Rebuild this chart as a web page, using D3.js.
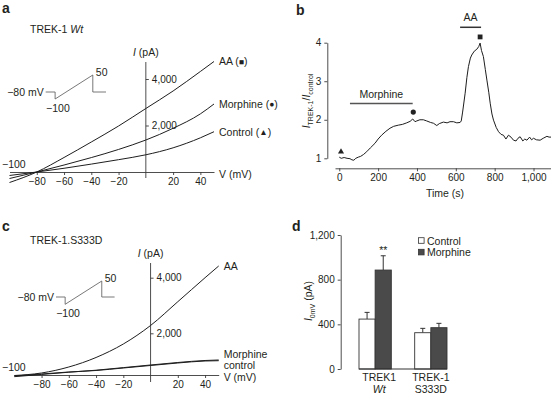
<!DOCTYPE html>
<html lang="en">
<head>
<meta charset="utf-8">
<style>
  html, body { margin: 0; padding: 0; background: #fff; }
  text { font-family: "Liberation Sans", Arial, Helvetica, sans-serif; font-size: 10.5px; fill: #231f20; }
  .axis text { font-size: 10px; }
  .axis path, .axis line { stroke: #3a3a3a; stroke-width: 0.9; }
  .trace { fill: none; stroke: #1e1e1e; stroke-width: 1; }
  .proto { fill: none; stroke: #555; stroke-width: 0.8; }
  .letter { font-weight: bold; font-size: 14px; }
</style>
</head>
<body>
<svg id="fig" width="551" height="394"></svg>
<script src="https://cdn.jsdelivr.net/npm/d3@7"></script>
<script>
// ---- data -------------------------------------------------------------
// I-V ramps (mV / pA)
const ivVoltage = [-100, -80, -60, -40, -20, 0, 20, 40, 50]
const wtAA       = [-452, 0, 624, 1290, 1978, 2731, 3484, 4323, 4753]
const wtMorphine = [-280, 0, 300, 620, 970, 1376, 1880, 2500, 2925]
const wtControl  = [-150, 0, 160, 340, 530, 740, 1040, 1470, 1733]
const s3AA       = [482, 572, 788, 1130, 1615, 2281, 3137, 4000, 4421]
const s3Morphine = [440, 520, 600, 672, 765, 860, 950, 1022, 1040]
const s3Control  = [464, 536, 608, 662, 752, 842, 932, 1004, 1014]
const ivTicksV = [-80, -60, -40, -20, 20, 40]
const ivTicksI = [2000, 4000]

// voltage protocol (arbitrary time units / mV)
const protoT = [0, 1, 1, 5, 5, 6.4]
const protoV = [-80, -80, -100, 50, -80, -80]

// time course (s / ratio)
const tcTime = [0, 10, 25, 40, 55, 65, 75, 85, 98, 110, 125, 141, 160, 184, 200, 218, 240, 261, 280, 304,
  325, 347, 365, 378, 390, 399, 415, 433, 450, 470, 485, 502, 515, 536, 555, 570, 588, 605, 622, 628,
  635, 648, 657, 665, 675, 682, 695, 708, 718, 725, 732, 742, 752, 760, 770, 777, 786, 794, 808, 820,
  833, 845, 858, 871, 884, 897, 910, 920, 931, 945, 955, 966, 980, 990, 1000, 1015, 1034, 1050, 1069, 1080, 1090]
const tcRatio = [1.03, 1.0, 1.02, 1.0, 0.99, 0.96, 0.95, 1.0, 1.03, 1.05, 1.1, 1.17, 1.27, 1.39, 1.5, 1.6, 1.7, 1.78, 1.83, 1.86,
  1.88, 1.92, 1.96, 2.02, 1.95, 1.97, 2.0, 2.0, 1.97, 1.93, 1.91, 1.85, 1.9, 1.94, 1.92, 1.95, 1.95, 1.92, 1.93, 1.97,
  2.2, 2.69, 3.1, 3.38, 3.6, 3.68, 3.78, 3.83, 3.9, 3.99, 3.8, 3.64, 3.3, 3.03, 2.7, 2.43, 2.15, 1.99, 1.8, 1.69,
  1.62, 1.6, 1.5, 1.6, 1.55, 1.47, 1.45, 1.52, 1.56, 1.45, 1.5, 1.47, 1.55, 1.48, 1.52, 1.48, 1.47, 1.52, 1.57, 1.55, 1.55]
const tcTimeTicks = [0, 200, 400, 600, 800, 1000]
const tcRatioTicks = [1, 2, 3, 4]
const morphineBar = [55, 378]
const aaBar = [622, 730]
const markTriangle = [9, 1.17]
const markCircle = [381, 2.2]
const markSquare = [725, 4.15]

// bar chart (pA)
const barGroups = ["TREK1", "TREK-1"]
const barGroupSub = ["Wt", "S333D"]
const barSeries = ["Control", "Morphine"]
const controlMean = [447, 325]
const controlErr = [60, 39]
const morphineMean = [886, 370]
const morphineErr = [128, 39]
const barStars = ["**", ""]
const barTicks = [0, 400, 800, 1200]

// ---- drawing ------------------------------------------------------------
const svg = d3.select("#fig")
const fmt = d3.format(",")
const line = (x, y) => d3.line().x(d => x(d[0])).y(d => y(d[1])).curve(d3.curveMonotoneX)

function letter (s, x, y) {
  svg.append("text").attr("class", "letter").attr("x", x).attr("y", y).text(s)
}

function protocol (x0, x1, yLo, yHold, yHi) {
  const px = d3.scaleLinear().domain([0, 6.4]).range([x0, x1])
  const py = d3.scaleLinear().domain([-100, -80, 50]).range([yLo, yHold, yHi])
  svg.append("path").attr("class", "proto")
    .attr("d", d3.line().x(d => px(d[0])).y(d => py(d[1]))(protoT.map((t, i) => [t, protoV[i]])))
  svg.append("text").attr("x", px(0) - 2).attr("y", py(-80) + 4).attr("text-anchor", "end").text("\u221280 mV")
  svg.append("text").attr("x", px(5) + 3).attr("y", py(50) + 1).text("50")
  svg.append("text").attr("x", px(1) - 9).attr("y", py(-100) + 13).text("\u2212100")
}

// panel a / c : I-V curves
function ivPanel (cfg) {
  const x = d3.scaleLinear().domain([-100, 50]).range(cfg.xr)
  const y = d3.scaleLinear().domain([0, 4000]).range(cfg.yr)
  const g = svg.append("g")

  g.append("g").attr("class", "axis")
    .attr("transform", `translate(0,${y(cfg.axisI)})`)
    .call(d3.axisBottom(x).tickValues(ivTicksV).tickSize(3).tickSizeOuter(0))

  const ya = g.append("g").attr("class", "axis")
    .attr("transform", `translate(${x(0)},0)`)
    .call(d3.axisRight(y).tickValues(ivTicksI).tickSize(3).tickFormat(fmt))
  ya.select(".domain").remove()
  g.append("line").attr("x1", x(0)).attr("x2", x(0))
    .attr("y1", cfg.iTop).attr("y2", cfg.iBottom)
    .attr("stroke", "#3a3a3a").attr("stroke-width", 0.9)

  const lab = g.append("text").attr("x", x(0)).attr("y", cfg.iTop - 6).attr("text-anchor", "middle")
  lab.append("tspan").attr("font-style", "italic").text("I")
  lab.append("tspan").text(" (pA)")

  g.append("text").attr("x", 2).attr("y", y(cfg.axisI) - 4).text("\u2212100")
  g.append("text").attr("x", x(50) + 5).attr("y", y(cfg.axisI) + 6).text("V (mV)")

  cfg.traces.forEach(tr => {
    g.append("path").attr("class", "trace").attr("stroke-width", tr.w)
      .attr("d", line(x, y)(ivVoltage.map((v, i) => [v, tr.values[i]])))
  })
  cfg.labels.forEach(lb => {
    const t = g.append("text").attr("x", x(50) + 5)
      .attr("y", y(lb.at) + lb.dy)
    t.append("tspan").text(lb.text)
    if (lb.sym) {
      t.append("tspan").text(" (")
      t.append("tspan").attr("font-size", "8.5px").attr("dy", -0.5).text(lb.sym)
      t.append("tspan").attr("dy", 0.5).text(")")
    }
  })
  const title = g.append("text").attr("x", 30).attr("y", cfg.titleY)
  title.append("tspan").text(cfg.title)
  if (cfg.titleIt) title.append("tspan").attr("font-style", "italic").text(cfg.titleIt)
}

letter("a", 2, 13)
ivPanel({
  xr: [9.5, 214], yr: [172, 79], axisI: 0, iTop: 62, iBottom: 178,
  title: "TREK-1 ", titleIt: "Wt", titleY: 33,
  traces: [{ values: wtAA, w: 1 }, { values: wtMorphine, w: 1.3 }, { values: wtControl, w: 1.3 }],
  labels: [
    { text: "AA", sym: "\u25A0", at: wtAA[8], dy: 4 },
    { text: "Morphine", sym: "\u25CF", at: wtMorphine[8], dy: 4 },
    { text: "Control", sym: "\u25B2", at: wtControl[8], dy: 4 }
  ]
})
protocol(45.7, 106, 99, 92, 75)

letter("c", 2, 231)
ivPanel({
  xr: [14.3, 218.7], yr: [388.9, 277.7], axisI: 500, iTop: 263, iBottom: 382,
  title: "TREK-1.S333D", titleY: 244,
  traces: [{ values: s3AA, w: 1.3 }, { values: s3Morphine, w: 1.2 }, { values: s3Control, w: 1.2 }],
  labels: [
    { text: "AA", at: s3AA[8], dy: 4 },
    { text: "Morphine", at: s3Control[8], dy: -3 },
    { text: "control", at: s3Control[8], dy: 8 }
  ]
})
protocol(56, 114.6, 304.3, 297, 281)

// panel b : time course
letter("b", 296, 15)
{
  const x = d3.scaleLinear().domain([-22, 1090]).range([335, 551])
  const y = d3.scaleLinear().domain([1, 4]).range([158.3, 42.7])
  const g = svg.append("g")
  g.append("g").attr("class", "axis").attr("transform", "translate(0,168.3)")
    .call(d3.axisBottom(x).tickValues(tcTimeTicks).tickSize(3).tickSizeOuter(0).tickFormat(fmt))
  g.append("g").attr("class", "axis").attr("transform", "translate(327.3,0)")
    .call(d3.axisLeft(y).tickValues(tcRatioTicks).tickSize(3).tickSizeOuter(0).tickPadding(3).tickFormat(d3.format("d")))
  g.append("text").attr("x", 445).attr("y", 197).attr("text-anchor", "middle").text("Time (s)")

  const yl = g.append("text").attr("transform", "translate(310,101) rotate(-90)").attr("text-anchor", "middle")
  yl.append("tspan").attr("font-style", "italic").text("I")
  yl.append("tspan").attr("font-size", "7px").attr("dy", 2.5).text("TREK-1")
  yl.append("tspan").attr("dy", -2.5).text("/")
  yl.append("tspan").attr("font-style", "italic").text("I")
  yl.append("tspan").attr("font-size", "7px").attr("dy", 2.5).text("control")

  g.append("path").attr("class", "trace")
    .attr("d", d3.line().x(d => x(d[0])).y(d => y(d[1]))(tcTime.map((t, i) => [t, tcRatio[i]])))

  g.append("line").attr("x1", x(morphineBar[0])).attr("x2", x(morphineBar[1]))
    .attr("y1", y(2.42)).attr("y2", y(2.42)).attr("stroke", "#555").attr("stroke-width", 1.5)
  g.append("text").attr("x", (x(morphineBar[0]) + x(morphineBar[1])) / 2).attr("y", y(2.42) - 6)
    .attr("text-anchor", "middle").text("Morphine")
  g.append("line").attr("x1", x(aaBar[0])).attr("x2", x(aaBar[1]))
    .attr("y1", y(4.4)).attr("y2", y(4.4)).attr("stroke", "#333").attr("stroke-width", 1.5)
  g.append("text").attr("x", (x(aaBar[0]) + x(aaBar[1])) / 2).attr("y", y(4.4) - 6)
    .attr("text-anchor", "middle").text("AA")

  g.append("path").attr("d", d3.symbol(d3.symbolTriangle, 16)())
    .attr("transform", `translate(${x(markTriangle[0])},${y(markTriangle[1])})`).attr("fill", "#222")
  g.append("circle").attr("cx", x(markCircle[0])).attr("cy", y(markCircle[1])).attr("r", 2.6).attr("fill", "#222")
  g.append("rect").attr("x", x(markSquare[0]) - 2.4).attr("y", y(markSquare[1]) - 2.4)
    .attr("width", 4.8).attr("height", 4.8).attr("fill", "#222")
}

// panel d : bars
letter("d", 292, 231)
{
  const x0 = d3.scaleBand().domain(barGroups).range([359, 447]).paddingInner(0.42)
  const x1 = d3.scaleBand().domain(barSeries).range([0, x0.bandwidth()])
  const y = d3.scaleLinear().domain([0, 1200]).range([369, 235])
  const g = svg.append("g")
  g.append("g").attr("class", "axis").attr("transform", "translate(340.7,0)")
    .call(d3.axisLeft(y).tickValues(barTicks).tickSize(3).tickSizeOuter(0).tickFormat(fmt))

  const yl = g.append("text").attr("transform", "translate(312,301) rotate(-90)").attr("text-anchor", "middle")
  yl.append("tspan").attr("font-style", "italic").text("I")
  yl.append("tspan").attr("font-size", "7px").attr("dy", 2.5).text("0mV")
  yl.append("tspan").attr("dy", -2.5).text(" (pA)")

  const rows = barGroups.map((grp, i) => [
    { grp, s: "Control", v: controlMean[i], e: controlErr[i], fill: "#fff" },
    { grp, s: "Morphine", v: morphineMean[i], e: morphineErr[i], fill: "#4a4a4a" }
  ]).flat()

  rows.forEach(d => {
    const bx = x0(d.grp) + x1(d.s)
    const cx = bx + x1.bandwidth() / 2
    g.append("line").attr("x1", cx).attr("x2", cx).attr("y1", y(d.v)).attr("y2", y(d.v + d.e))
      .attr("stroke", "#333").attr("stroke-width", 1)
    g.append("line").attr("x1", cx - 2.5).attr("x2", cx + 2.5).attr("y1", y(d.v + d.e)).attr("y2", y(d.v + d.e))
      .attr("stroke", "#333").attr("stroke-width", 1)
    g.append("rect").attr("x", bx).attr("y", y(d.v)).attr("width", x1.bandwidth())
      .attr("height", y(0) - y(d.v)).attr("fill", d.fill).attr("stroke", "#333").attr("stroke-width", 0.9)
  })
  g.append("line").attr("x1", x0.range()[0]).attr("x2", x0.range()[1]).attr("y1", y(0)).attr("y2", y(0))
    .attr("stroke", "#333").attr("stroke-width", 1)

  barGroups.forEach((grp, i) => {
    const cx = x0(grp) + x0.bandwidth() / 2
    g.append("text").attr("x", cx + (i === 0 ? 4 : 0)).attr("y", 381).attr("text-anchor", "middle").text(grp)
    g.append("text").attr("x", cx + (i === 0 ? 4 : 0)).attr("y", 393).attr("text-anchor", "middle")
      .attr("font-style", i === 0 ? "italic" : null).text(barGroupSub[i])
    if (barStars[i]) {
      const mx = x0(grp) + x1("Morphine") + x1.bandwidth() / 2
      g.append("text").attr("x", mx).attr("y", y(morphineMean[i] + morphineErr[i]) - 2)
        .attr("text-anchor", "middle").attr("font-size", "10px").text(barStars[i])
    }
  })

  barSeries.forEach((s, i) => {
    g.append("rect").attr("x", 418.5).attr("y", 237.7 + i * 11.6).attr("width", 5.6).attr("height", 5.6)
      .attr("fill", i === 0 ? "#fff" : "#4a4a4a").attr("stroke", "#333").attr("stroke-width", 0.8)
    g.append("text").attr("x", 427).attr("y", 244.5 + i * 11.6).text(s)
  })
}
</script>
</body>
</html>
